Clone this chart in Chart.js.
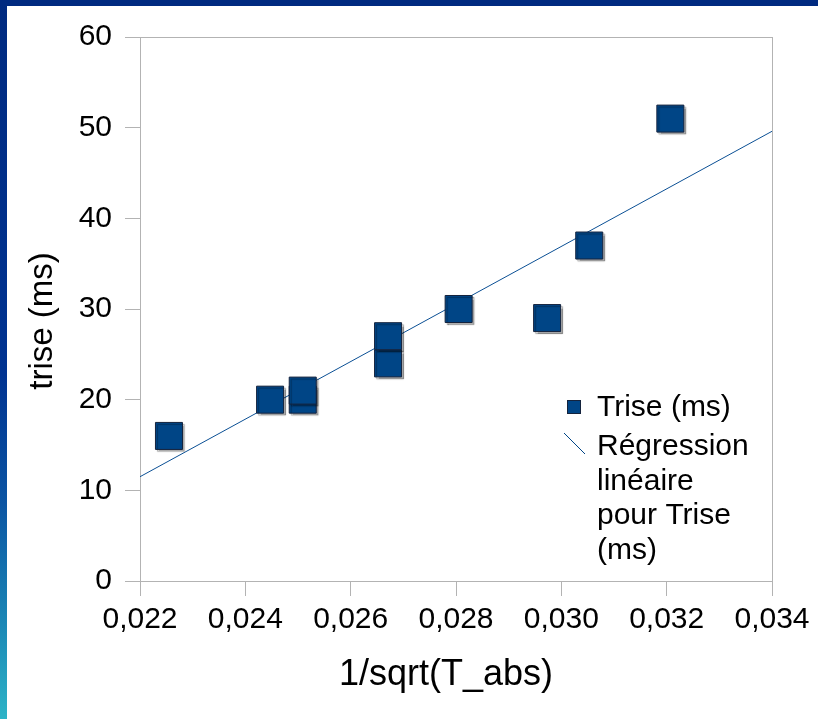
<!DOCTYPE html>
<html>
<head>
<meta charset="utf-8">
<script src="https://cdn.jsdelivr.net/npm/chart.js@4/dist/chart.umd.min.js"></script>
<style>
html,body{margin:0;padding:0;background:#fff;}
#wrap{position:relative;width:818px;height:719px;overflow:hidden;background:#fff;}
#topband{position:absolute;left:0;top:0;width:818px;height:6px;background:#002a80;}
#leftband{position:absolute;left:0;top:0;width:7px;height:719px;
  background:linear-gradient(to bottom,#002a80 0%,#003391 52%,#0b55a3 70%,#1a85b5 86%,#2db4c7 100%);}
#c{position:absolute;left:0;top:0;}
</style>
</head>
<body>
<div id="wrap">
  <div id="topband"></div>
  <div id="leftband"></div>
  <canvas id="c" width="818" height="719"></canvas>
</div>
<script>
// ---- data ----
const xValues = [0.02255, 0.02447, 0.02509, 0.02509, 0.02671, 0.02671, 0.02805, 0.02973, 0.03053, 0.03207];
const yValues = [16, 20, 20, 21, 24, 27, 30, 29, 37, 51];
const regX = [0.022, 0.034];
const regY = [11.5, 49.6];
const xTickValues = [0.022, 0.024, 0.026, 0.028, 0.030, 0.032, 0.034];
const xTickLabels = ['0,022', '0,024', '0,026', '0,028', '0,030', '0,032', '0,034'];
const yTickValues = [0, 10, 20, 30, 40, 50, 60];
const yTickLabels = ['0', '10', '20', '30', '40', '50', '60'];
const seriesLabel = 'Trise (ms)';
const regLabel = 'Régression linéaire pour Trise (ms)';
const regLegendLines = ['Régression', 'linéaire', 'pour Trise', '(ms)'];
const xTitle = '1/sqrt(T_abs)';
const yTitle = 'trise (ms)';

const FONT = '"Liberation Sans", Arial, Helvetica, sans-serif';
const FILL = '#004586';
const EDGE = '#14233d';
const FRAME = '#b3b3b3';

const frame = {
  id: 'frame',
  beforeDatasetsDraw(chart) {
    const a = chart.chartArea, ctx = chart.ctx;
    ctx.save();
    ctx.strokeStyle = FRAME; ctx.lineWidth = 1;
    ctx.strokeRect(Math.round(a.left) + 0.5, Math.round(a.top) + 0.5,
                   Math.round(a.right - a.left), Math.round(a.bottom - a.top));
    ctx.restore();
  },
  beforeDatasetDraw(chart, args) {
    if (args.index === 0) {
      const ctx = chart.ctx;
      ctx.save();
      ctx.shadowColor = 'rgba(0,0,0,0.3)';
      ctx.shadowOffsetX = 2; ctx.shadowOffsetY = 2; ctx.shadowBlur = 1;
    }
  },
  afterDatasetDraw(chart, args) {
    if (args.index === 0) chart.ctx.restore();
  },
  afterDraw(chart) {
    const ctx = chart.ctx;
    ctx.save();
    // axis titles
    ctx.fillStyle = '#000';
    ctx.font = '36px ' + FONT;
    ctx.textAlign = 'center'; ctx.textBaseline = 'alphabetic';
    ctx.fillText(xTitle, 446, 685);
    ctx.save();
    ctx.translate(52, 321);
    ctx.rotate(-Math.PI / 2);
    ctx.font = '33px ' + FONT;
    ctx.fillText(yTitle, 0, 0);
    ctx.restore();
    // legend
    ctx.fillStyle = FILL; ctx.strokeStyle = EDGE; ctx.lineWidth = 1;
    ctx.fillRect(567, 400, 14, 14);
    ctx.strokeRect(567.5, 400.5, 13, 13);
    ctx.strokeStyle = FILL; ctx.lineWidth = 1;
    ctx.beginPath(); ctx.moveTo(564, 433); ctx.lineTo(585, 454); ctx.stroke();
    ctx.fillStyle = '#000';
    ctx.font = '30px ' + FONT;
    ctx.textBaseline = 'middle'; ctx.textAlign = 'left';
    ctx.fillText(chart.data.datasets[0].label, 597, 408);
    regLegendLines.forEach((t, i) => ctx.fillText(t, 597, 447 + i * 34.5));
    ctx.restore();
  }
};

new Chart(document.getElementById('c'), {
  type: 'scatter',
  data: {
    datasets: [
      {
        label: seriesLabel,
        data: xValues.map((x, i) => ({x: x, y: yValues[i]})),
        pointStyle: 'rect',
        pointRadius: 19.1,
        pointHoverRadius: 19.1,
        backgroundColor: FILL,
        borderColor: EDGE,
        borderWidth: 1,
        order: 0
      },
      {
        label: regLabel,
        type: 'line',
        data: regX.map((x, i) => ({x: x, y: regY[i]})),
        borderColor: '#0a4f94',
        borderWidth: 1,
        pointRadius: 0,
        fill: false,
        showLine: true,
        order: 1
      }
    ]
  },
  options: {
    responsive: false,
    animation: false,
    devicePixelRatio: 1,
    layout: {padding: {left: 0, right: 46, top: 37, bottom: 0}},
    plugins: {legend: {display: false}, tooltip: {enabled: false}, title: {display: false}},
    scales: {
      x: {
        type: 'linear',
        min: xTickValues[0], max: xTickValues[xTickValues.length - 1],
        afterBuildTicks(s) { s.ticks = xTickValues.map(v => ({value: v})); },
        afterFit(s) { s.height = 138; },
        ticks: {
          callback: (v, i) => xTickLabels[i],
          font: {family: FONT, size: 30}, color: '#000', padding: 6, maxRotation: 0, autoSkip: false
        },
        grid: {display: true, drawOnChartArea: false, drawTicks: true, tickLength: 15, color: FRAME},
        border: {display: true, color: FRAME},
        title: {display: false, text: xTitle}
      },
      y: {
        type: 'linear',
        min: yTickValues[0], max: yTickValues[yTickValues.length - 1],
        afterBuildTicks(s) { s.ticks = yTickValues.map(v => ({value: v})); },
        afterFit(s) { s.width = 140; },
        ticks: {
          callback: (v, i) => yTickLabels[i],
          font: {family: FONT, size: 30}, color: '#000', padding: 13, autoSkip: false
        },
        grid: {display: true, drawOnChartArea: false, drawTicks: true, tickLength: 15, color: FRAME},
        border: {display: true, color: FRAME},
        title: {display: false, text: yTitle}
      }
    }
  },
  plugins: [frame]
});
</script>
</body>
</html>
